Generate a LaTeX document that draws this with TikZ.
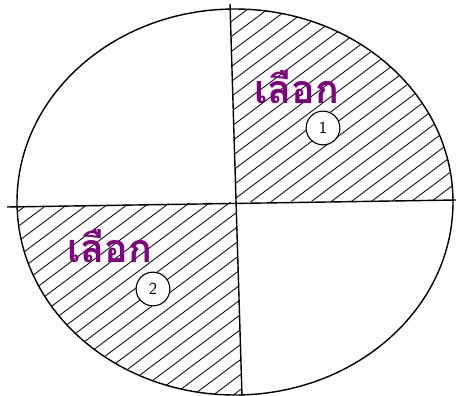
\documentclass[tikz,border=0pt]{standalone}
\usepackage{fontspec}
\newfontfamily\thaifont[Script=Thai]{Loma}
\usepackage{tikz}
\definecolor{choice}{RGB}{128,0,128}

\begin{document}
\begin{tikzpicture}[x=0.025cm,y=-0.025cm,
every node/.style={inner sep=0pt},
choicetext/.style={text=choice,text depth=0pt,font=\thaifont\bfseries\fontsize{28}{32}\selectfont},
num/.style={draw,circle,fill=white,minimum size=24pt,line width=0.8pt,font=\sffamily\large},
hatch/.style={line width=0.6pt}]

\useasboundingbox (0,0) rectangle (456,396);

\coordinate (C) at (236,202);
\coordinate (N) at (230,4);
\coordinate (S) at (242,396);
\coordinate (W) at (7,207);
\coordinate (E) at (456,200);

\begin{scope}
\clip (C) -- (N) -- (456,0) -- (E) -- cycle;
\clip (235,202) ellipse (218 and 193);
\foreach \k in {0,15,...,810}
  \draw[hatch] (0,\k) -- (456,\k-342);
\end{scope}

\begin{scope}
\clip (C) -- (S) -- (0,396) -- (W) -- cycle;
\clip (235,202) ellipse (218 and 193);
\foreach \k in {0,15,...,810}
  \draw[hatch] (0,\k) -- (456,\k-342);
\end{scope}

\draw[line width=1pt] (235,202) ellipse (218 and 193);
\draw[line width=1pt] (W) -- (E);
\draw[line width=1pt] (N) -- (S);

\node[choicetext] (t1) at (297,87) {เลือก};
\node[num] (n1) at (323,128) {1};

\node[choicetext] (t2) at (110,246) {เลือก};
\node[num] (n2) at (153,289) {2};

\end{tikzpicture}
\end{document}
